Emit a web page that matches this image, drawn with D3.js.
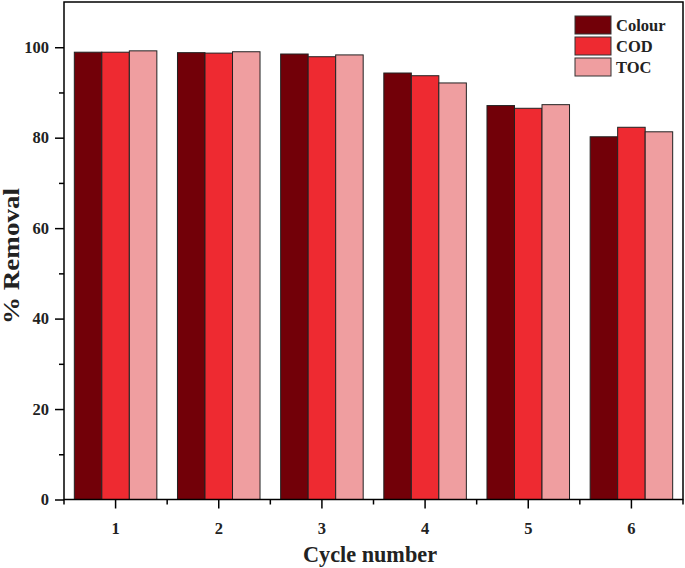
<!DOCTYPE html>
<html><head><meta charset="utf-8">
<script src="https://cdn.jsdelivr.net/npm/d3@7"></script>
<style>body{margin:0;background:#fff}svg{display:block}text{font-family:"Liberation Serif","Times New Roman",serif;font-weight:bold}</style>
</head><body><svg id="c" width="685" height="568"></svg>
<script>
const categories = ["1","2","3","4","5","6"];
const seriesNames = ["Colour","COD","TOC"];
const colourVals = [98.9, 98.8, 98.5, 94.3, 87.1, 80.2];
const codVals    = [98.9, 98.7, 97.9, 93.7, 86.5, 82.3];
const tocVals    = [99.2, 99.0, 98.3, 92.1, 87.3, 81.3];
const yTicks = [0,20,40,60,80,100];
const colors = ["#720008","#ee2a31","#ef9ea0"];
const series = [colourVals, codVals, tocVals];

const svg = d3.select("#c");
const m = {l:64, r:683, t:2, b:499.5};
const x = d3.scaleBand().domain(categories).range([m.l, m.r]).padding(0);
const xi = d3.scaleBand().domain(seriesNames).range([0, x.bandwidth()]).paddingInner(0).paddingOuter(0.375);
const y = d3.scaleLinear().domain([0,110]).range([m.b, m.t]);

// bars
categories.forEach((c,i)=>{
  seriesNames.forEach((s,j)=>{
    svg.append("rect")
      .attr("x", x(c)+xi(s)).attr("width", xi.bandwidth())
      .attr("y", y(series[j][i])).attr("height", y(0)-y(series[j][i]))
      .attr("fill", colors[j]).attr("stroke","#222").attr("stroke-width",1);
  });
});

// y axis
const ya = svg.append("g").attr("transform",`translate(${m.l},0)`)
  .call(d3.axisLeft(y).tickValues(yTicks).tickSize(9).tickPadding(6).tickFormat(d3.format("d")));
ya.select(".domain").remove();
ya.selectAll("line").attr("stroke","#000").attr("stroke-width",1.5);
ya.selectAll("text").attr("font-size",16.5).attr("fill","#222");
const ym = svg.append("g").attr("transform",`translate(${m.l},0)`)
  .call(d3.axisLeft(y).tickValues([10,30,50,70,90]).tickSize(5).tickFormat(""));
ym.select(".domain").remove();
ym.selectAll("line").attr("stroke","#000").attr("stroke-width",1.5);

// x axis
const xa = svg.append("g").attr("transform",`translate(0,${m.b})`)
  .call(d3.axisBottom(x).tickSize(9).tickPadding(14));
xa.select(".domain").remove();
xa.selectAll("line").attr("stroke","#000").attr("stroke-width",1.5);
xa.selectAll("text").attr("font-size",16.5).attr("fill","#222");
const bounds = categories.map(c=>x(c)).concat([x(categories[categories.length-1])+x.bandwidth()]);
svg.selectAll(".xm").data(bounds).enter().append("line")
  .attr("x1",d=>d).attr("x2",d=>d).attr("y1",m.b).attr("y2",m.b+5)
  .attr("stroke","#000").attr("stroke-width",1.5);

// frame
svg.append("rect").attr("x",m.l).attr("y",m.t).attr("width",m.r-m.l).attr("height",m.b-m.t)
  .attr("fill","none").attr("stroke","#000").attr("stroke-width",1.5);

// titles
svg.append("text").attr("x",370).attr("y",562).attr("text-anchor","middle")
  .attr("font-size",23).attr("fill","#222").attr("textLength",134).attr("lengthAdjust","spacingAndGlyphs").text("Cycle number");
svg.append("text").attr("transform",`translate(19,256) rotate(-90)`).attr("text-anchor","middle")
  .attr("font-size",23).attr("fill","#222").attr("textLength",136).attr("lengthAdjust","spacingAndGlyphs").text("% Removal");

// legend
const lg = svg.append("g").attr("transform","translate(575,16)");
seriesNames.forEach((s,j)=>{
  lg.append("rect").attr("x",0).attr("y",j*21).attr("width",36).attr("height",18)
    .attr("fill",colors[j]).attr("stroke","#333").attr("stroke-width",1);
  lg.append("text").attr("x",41).attr("y",j*21+14.5).attr("font-size",16.5).attr("fill","#222").text(s);
});
</script></body></html>
